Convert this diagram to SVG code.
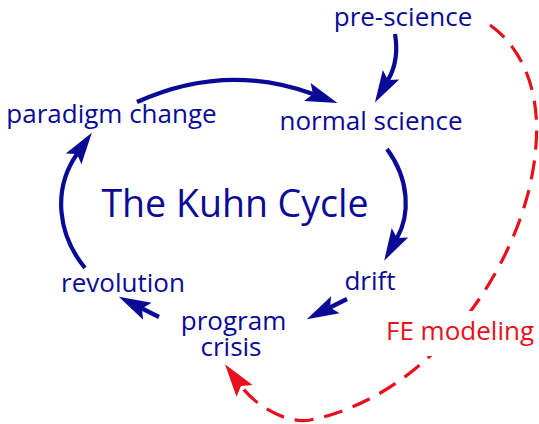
<svg xmlns="http://www.w3.org/2000/svg" width="539" height="424" viewBox="0 0 539 424">
<style>
.lbl{font-family:"Open Sans","Liberation Sans",sans-serif;font-size:26px;fill:#0a0a96;text-anchor:middle}
.title{font-family:"Open Sans","Liberation Sans",sans-serif;font-size:37.5px;fill:#0a0a96;text-anchor:middle}
.red{fill:#e8101a}
.blue{fill:none;stroke:#0a0a96;stroke-width:4.2}
.dash{fill:none;stroke:#e8101a;stroke-width:3.2;stroke-dasharray:19 11}
</style>
<defs>
<marker id="ab" markerUnits="userSpaceOnUse" orient="auto" markerWidth="40" markerHeight="30" refX="6" refY="0" viewBox="0 -15 40 30" overflow="visible">
<path d="M0,-9.5 L32,0 L0,9.5 L6,0 Z" fill="#0a0a96"/>
</marker>
<marker id="ar" markerUnits="userSpaceOnUse" orient="auto" markerWidth="40" markerHeight="30" refX="6" refY="0" viewBox="0 -15 40 30" overflow="visible">
<path d="M0,-10 L33,0 L0,10 L6,0 Z" fill="#e8101a"/>
</marker>
</defs>
<g id="connectors">
<path class="blue" d="M395,34 C398,52 395,68 388,80" marker-end="url(#ab)"/>
<path class="blue" d="M137,102 Q225,62 313,94" marker-end="url(#ab)"/>
<path class="blue" d="M387,149 C410,180 410,215 397,238" marker-end="url(#ab)"/>
<path class="blue" d="M347,299 L330,307.5" marker-end="url(#ab)"/>
<path class="blue" d="M159,317 L142,308.5" marker-end="url(#ab)"/>
<path class="blue" d="M85,268 C58,235 52,190 77,154" marker-end="url(#ab)"/>
<path class="dash" d="M490,25 C525,50 540,95 536,145 C532,205 505,265 470,312 C440,352 385,405 310,420 C285,424 255,405 241,386" marker-end="url(#ar)"/>
</g>
<g id="title"><text class="title" x="235" y="217">The Kuhn Cycle</text></g>
<g id="pre-science"><text class="lbl" x="403" y="26">pre-science</text></g>
<g id="normal-science"><text class="lbl" x="371" y="130">normal science</text></g>
<g id="paradigm-change"><text class="lbl" x="111.5" y="123">paradigm change</text></g>
<g id="drift"><text class="lbl" x="370" y="290">drift</text></g>
<g id="revolution"><text class="lbl" x="123" y="292">revolution</text></g>
<g id="program-crisis"><text class="lbl" x="233.5" y="330">program</text><text class="lbl" x="231" y="356">crisis</text></g>
<g id="fe-modeling"><rect x="378" y="311" width="161" height="45" fill="#fff"/><text class="lbl red" x="460" y="340">FE modeling</text></g>
</svg>
